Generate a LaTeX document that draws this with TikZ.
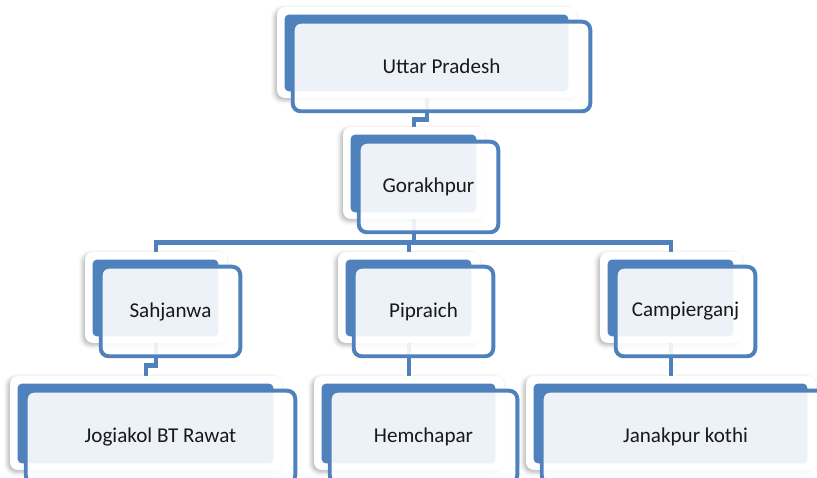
\documentclass[tikz,border=0pt]{standalone}
\usepackage{fontspec}
\setmainfont{Carlito}
\usetikzlibrary{backgrounds, calc, fit, shadows.blur}
\definecolor{unitblue}{HTML}{4F81BD}

\tikzset{
  card/.style={fill=white, rounded corners=0.2cm, inner sep=0pt,
    blur shadow={shadow xshift=-1.5pt, shadow yshift=-1.5pt, shadow opacity=30, shadow blur radius=3pt}},
  back/.style={fill=unitblue, rounded corners=0.1cm},
  front/.style={draw=unitblue, line width=2.8pt, fill=white, fill opacity=0.9, rounded corners=0.2cm},
  unitlabel/.style={font=\fontsize{15}{18}\selectfont, text=black!90},
  link/.style={draw=unitblue, line width=3.5pt}
}

% one unit: name, top left, bottom right, text
\newcommand{\orgunit}[4]{%
  \node[card, fit={(#2) (#3)}] (#1) {};
  \fill[back] ($(#1.north west)+(8,8)$) rectangle ($(#1.south east)+(-9,-7)$);
  \draw[front] ($(#1.north west)+(16,15)$) rectangle ($(#1.south east)+(13,13)$);
  \node[unitlabel] (#1-t) at ($(#1.center)+(14.5,14)$) {#4};
}

\begin{document}
\begin{tikzpicture}[line cap=butt, line join=miter, x=0.025cm, y=-0.025cm]
\useasboundingbox (0,0) rectangle (817,478);

% Units
\orgunit{up}{277,7}{577,98}{Uttar Pradesh}
\orgunit{gkp}{343,127}{485,219}{Gorakhpur}
\orgunit{shj}{85,252}{227,343}{Sahjanwa}
\orgunit{ppr}{338,252}{480,343}{Pipraich}
\orgunit{cpg}{600,252}{742,343}{Campierganj}
\orgunit{jbr}{10,376}{282,470}{Jogiakol BT Rawat}
\orgunit{hmc}{314,376}{504,470}{Hemchapar}
\orgunit{jkt}{526,376}{816,470}{Janakpur kothi}

% Links, behind the units
\begin{scope}[on background layer]
\draw[link] (up.south) -- ++(0,21) -| (gkp.north);
\coordinate (bus) at ($(gkp.south)+(0,23)$);
\draw[link] (gkp.south) -- (bus);
\draw[link] (shj.north) -- (shj.north |- bus) -- (cpg.north |- bus) -- (cpg.north);
\draw[link] (ppr.north) -- (ppr.north |- bus);
\draw[link] (shj.south) -- ++(0,22) -| (jbr.north);
\draw[link] (ppr.south) -- (hmc.north);
\draw[link] (cpg.south) -- (jkt.north);
\end{scope}
\end{tikzpicture}
\end{document}
